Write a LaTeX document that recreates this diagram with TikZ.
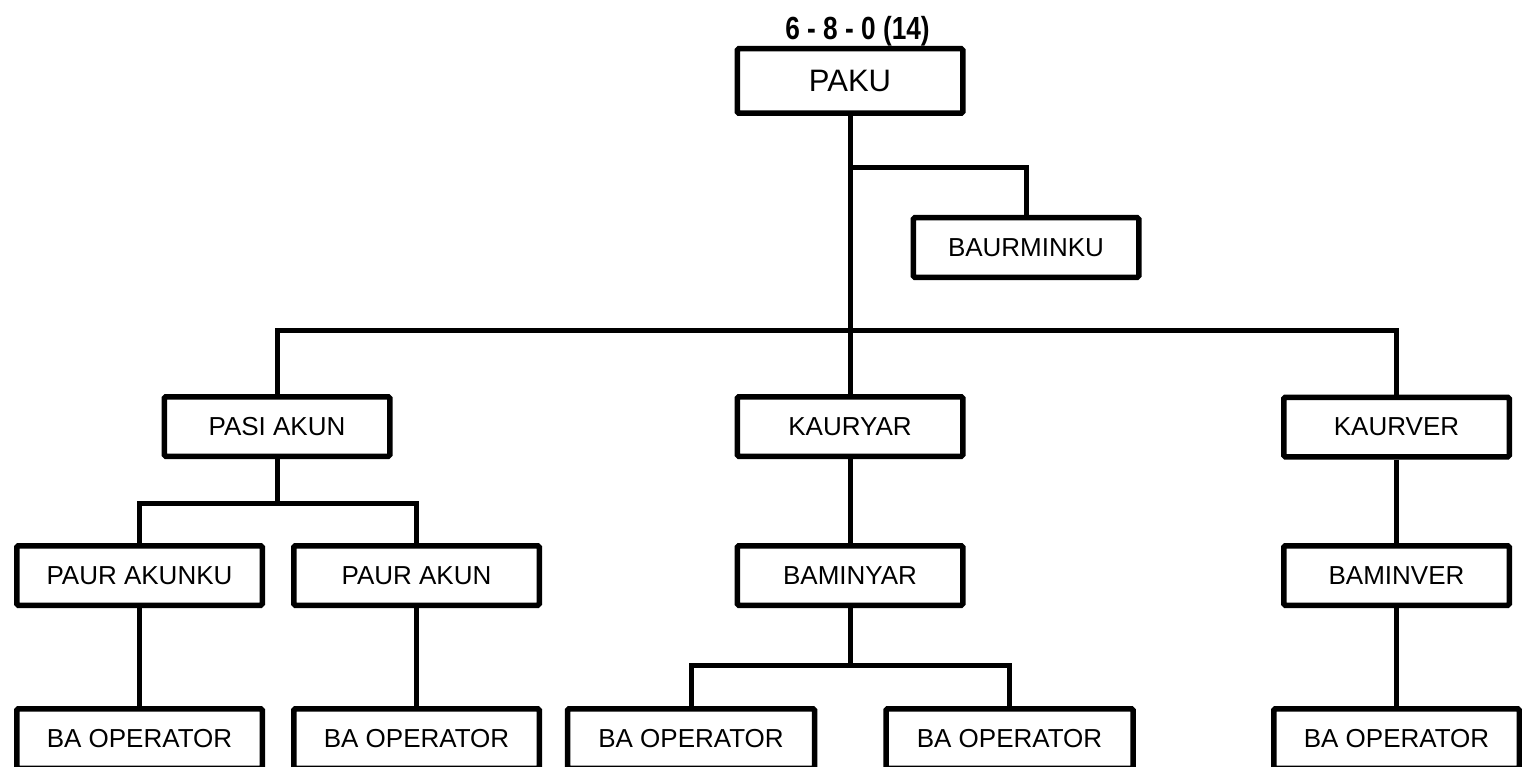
\documentclass[tikz,border=0pt]{standalone}
\usepackage{fontspec}
\setmainfont{Liberation Sans}
\begin{document}
\begin{tikzpicture}[x=1pt,y=-1pt,
  box/.style={draw=black, line width=5.5pt, rounded corners=1.5pt, fill=white,
    minimum height=59.5pt, inner sep=0pt, font=\fontsize{26}{30}\selectfont},
  narrowbox/.style={box, minimum width=225.5pt},
  widebox/.style={box, minimum width=245.5pt},
  link/.style={draw=black, line width=5pt}
]
\useasboundingbox (0,0) rectangle (1522,767);
\clip (0,0) rectangle (1522,767);
\fill[white] (0,0) rectangle (1522,767);

% title
\node[anchor=base, inner sep=0pt, xscale=0.82, font=\fontsize{32}{36}\selectfont\bfseries] (title) at (857.5,40) {6 - 8 - 0 (14)};

% nodes
\node[box, minimum width=225.5pt, minimum height=64.5pt, font=\fontsize{31}{34}\selectfont] (paku) at (850,81) {PAKU};
\node[narrowbox] (baurminku) at (1026,247.5) {BAURMINKU};

\node[narrowbox] (pasi) at (277,426.5) {PASI AKUN};
\node[narrowbox] (kauryar) at (850,426.5) {KAURYAR};
\node[narrowbox] (kaurver) at (1396.5,427) {KAURVER};

\node[widebox] (paurakunku) at (139.5,575.5) {PAUR AKUNKU};
\node[widebox] (paurakun) at (416.5,575.5) {PAUR AKUN};
\node[narrowbox] (baminyar) at (850,575.5) {BAMINYAR};
\node[narrowbox] (baminver) at (1396.5,575.5) {BAMINVER};

\node[widebox] (ba1) at (139.5,738.5) {BA OPERATOR};
\node[widebox] (ba2) at (416.5,738.5) {BA OPERATOR};
\node[widebox, minimum width=247pt] (ba3) at (691,738.5) {BA OPERATOR};
\node[widebox, minimum width=247pt] (ba4) at (1009.5,738.5) {BA OPERATOR};
\node[widebox] (ba5) at (1396.5,738.5) {BA OPERATOR};

% junction coordinates
\coordinate (j1) at (850,167.5);
\coordinate (j2) at (850,330.5);
\coordinate (j3) at (277,503);
\coordinate (j4) at (850,665);

% connectors
\draw[link] (paku) -- (kauryar);
\draw[link] (j1) -| (baurminku.north);
\draw[link] (pasi.north) |- (j2) -| (kaurver.north);
\draw[link] (pasi) -- (j3);
\draw[link] (paurakunku.north) |- (j3) -| (paurakun.north);
\draw[link] (paurakunku) -- (ba1);
\draw[link] (paurakun) -- (ba2);
\draw[link] (kauryar) -- (baminyar);
\draw[link] (baminyar) -- (j4);
\draw[link] (ba3.north) |- (j4) -| (ba4.north);
\draw[link] (kaurver) -- (baminver);
\draw[link] (baminver) -- (ba5);
\end{tikzpicture}
\end{document}
